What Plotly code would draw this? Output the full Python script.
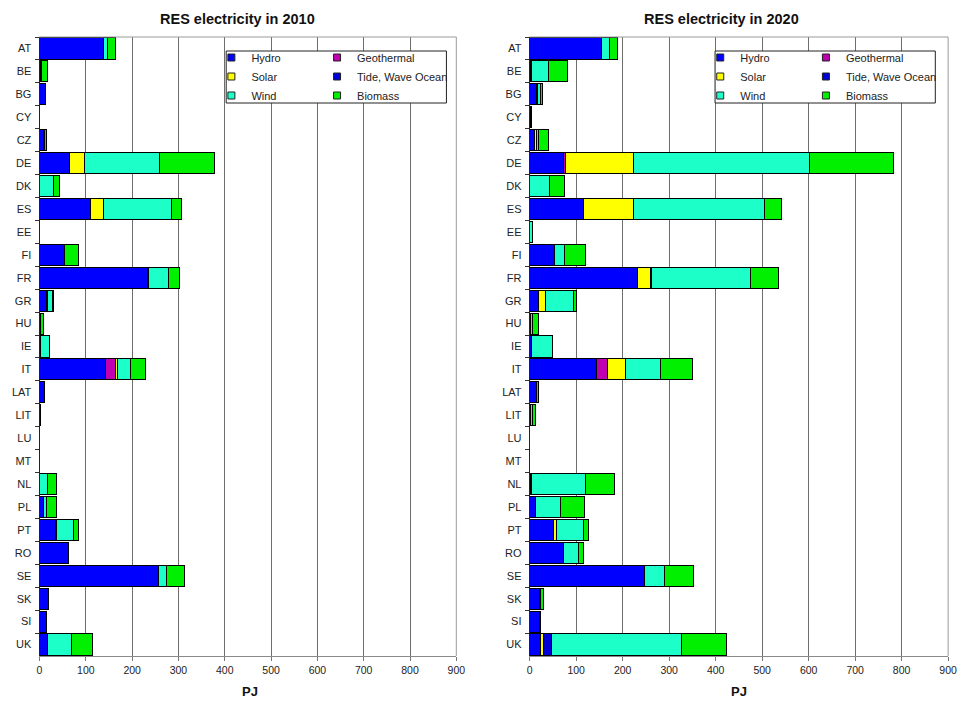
import plotly.graph_objects as go

# Member states, top to bottom
countries = ["AT", "BE", "BG", "CY", "CZ", "DE", "DK", "ES", "EE", "FI", "FR", "GR", "HU",
             "IE", "IT", "LAT", "LIT", "LU", "MT", "NL", "PL", "PT", "RO", "SE", "SK", "SI", "UK"]

sources = ["Hydro", "Geothermal", "Solar", "Tide, Wave Ocean", "Wind", "Biomass"]

# RES electricity 2010, PJ
hydro_2010 = [138, 1.2, 12, 0, 8.5, 65, 0.1, 111, 0, 53, 234, 16, 0.7,
              2.5, 143, 11, 0.5, 0, 0, 0.4, 8.5, 35.5, 62, 257, 19.5, 15, 18]
geo_2010 = [0, 0, 0, 0, 0, 0, 0, 0, 0, 0, 0, 0, 0,
            0, 20, 0, 0, 0, 0, 0, 0, 0, 0, 0, 0, 0, 0]
solar_2010 = [0.5, 0.2, 0, 0, 0.5, 33, 0, 28, 0, 0, 0.1, 0.5, 0,
              0, 6, 0, 0, 0, 0, 0.2, 0, 1, 0, 0, 0, 0, 0.2]
tide_2010 = [0, 0, 0, 0, 0, 0, 0, 0, 0, 0, 1.8, 0, 0,
             0, 0, 0, 0, 0, 0, 0, 0, 0, 0, 0, 0, 0, 0]
wind_2010 = [9, 3.5, 0.5, 0, 1, 161, 30, 147, 0, 0.5, 42.5, 12.5, 1.2,
             18, 28, 0.2, 0.5, 0, 0, 16, 7, 37, 0.3, 17, 0, 0, 51]
biomass_2010 = [17, 13, 0.5, 0, 5, 119, 14, 20, 0, 30, 23, 0.5, 7.5,
                0.5, 32, 0.3, 0.5, 0, 0, 21, 22, 10, 0.3, 38, 0.5, 0, 45]

# RES electricity 2020, PJ
hydro_2020 = [154, 1.5, 15, 0, 11, 73, 0.1, 115, 0.1, 53, 232.5, 20, 1,
              3, 143, 14, 1.5, 0, 0, 0.5, 13, 51.5, 73, 246.5, 21, 21, 23]
geo_2020 = [0, 0, 0, 0, 0, 4, 0, 0, 0, 0, 0, 0, 0,
            0, 24, 0, 0, 0, 0, 0, 0, 0, 0, 0, 0, 0, 0]
solar_2020 = [0.5, 2.5, 1.5, 1.3, 3, 147, 0.5, 108, 0, 0, 27.5, 13.5, 0,
              0, 40, 0, 0, 0, 0, 1.5, 0, 5.5, 0.5, 0.2, 1.5, 1, 6]
tide_2020 = [0, 0, 0, 0, 0, 0, 0, 0, 0, 0, 1.8, 0, 0,
             0, 0, 0, 0, 0, 0, 1.5, 0, 1.5, 0, 0, 0, 0, 17]
wind_2020 = [17, 37, 7, 1.8, 6, 377, 42, 282, 5.5, 21, 212.5, 60, 5,
             46, 74, 1.5, 5, 0, 0, 117, 54, 57, 31, 44, 0, 0.5, 281]
biomass_2020 = [18, 41, 4.5, 0.6, 21, 181, 33, 37, 1, 47, 60, 7, 13,
                0.5, 69, 3.5, 5.5, 0, 0, 62, 51, 12, 12, 61, 8, 1, 97]

colors = {
    "Hydro": "#0000FF",
    "Geothermal": "#C000B0",
    "Solar": "#FFFF00",
    "Tide, Wave Ocean": "#0000D8",
    "Wind": "#1CFFC8",
    "Biomass": "#00F000",
}

data_2010 = [hydro_2010, geo_2010, solar_2010, tide_2010, wind_2010, biomass_2010]
data_2020 = [hydro_2020, geo_2020, solar_2020, tide_2020, wind_2020, biomass_2020]

W, H = 968, 701
FONT = "Liberation Sans, Arial, sans-serif"


def px(xp):
    return xp / W


def py(yp):
    return 1 - yp / H


# legend column for each source (two columns per chart)
left_col = {"Hydro", "Solar", "Wind"}

fig = go.Figure()
for series, xa, ya, legs in [
    (data_2010, "x", "y", ("legend", "legend2")),
    (data_2020, "x2", "y2", ("legend3", "legend4")),
]:
    for name, vals in zip(sources, series):
        fig.add_trace(go.Bar(
            y=countries,
            x=[v if v else None for v in vals],
            name=name,
            orientation="h",
            xaxis=xa,
            yaxis=ya,
            marker=dict(color=colors[name], line=dict(color="#000000", width=1)),
            showlegend=False,
            hoverinfo="x+y+name",
        ))
    # small square legend keys, one per source
    for name in sources:
        fig.add_trace(go.Scatter(
            x=[None], y=[None], mode="markers", name=name, xaxis=xa, yaxis=ya,
            marker=dict(symbol="square", size=7, color=colors[name],
                        line=dict(color="#222222", width=1)),
            legend=legs[0] if name in left_col else legs[1],
            showlegend=True, hoverinfo="skip",
        ))

x_dom = [(37, 459), (533.3, 957)]
y_top, y_bot = 37, 656

axis_x = dict(
    range=[0, 900], dtick=100, tick0=0, showgrid=True, gridcolor="#6E6E6E", gridwidth=1,
    ticks="outside", ticklen=4, tickcolor="#777777", showline=True, linecolor="#8A8A8A",
    linewidth=1, zeroline=False, tickfont=dict(family=FONT, size=10.5, color="#222222"),
    fixedrange=True,
)
axis_y = dict(
    type="category", categoryorder="array", categoryarray=countries, autorange="reversed",
    ticks="outside", tickson="boundaries", ticklen=4, tickcolor="#333333",
    showline=True, linecolor="#222222", linewidth=1, showgrid=False, ticklabelstandoff=5,
    tickfont=dict(family=FONT, size=11, color="#222222"), fixedrange=True,
)

fig.update_layout(
    width=W, height=H,
    margin=dict(l=0, r=0, t=0, b=0),
    paper_bgcolor="white", plot_bgcolor="white",
    barmode="stack", bargap=0.08,
    font=dict(family=FONT, color="#222222"),
    xaxis=dict(axis_x, domain=[px(x_dom[0][0]), px(x_dom[0][1])], anchor="y"),
    yaxis=dict(axis_y, domain=[py(y_bot), py(y_top)], anchor="x"),
    xaxis2=dict(axis_x, domain=[px(x_dom[1][0]), px(x_dom[1][1])], anchor="y2"),
    yaxis2=dict(axis_y, domain=[py(y_bot), py(y_top)], anchor="x2"),
)

# legends: two vertical columns per chart inside a framed box
leg_common = dict(
    orientation="v", yanchor="top", xanchor="left", bgcolor="rgba(0,0,0,0)",
    borderwidth=0, font=dict(family=FONT, size=11, color="#222222"),
    tracegroupgap=0, traceorder="normal", itemsizing="trace",
)
fig.update_layout(
    legend=dict(leg_common, x=px(211), y=py(43)),
    legend2=dict(leg_common, x=px(318), y=py(43)),
    legend3=dict(leg_common, x=px(706), y=py(43)),
    legend4=dict(leg_common, x=px(813), y=py(43)),
)

shapes = []
for (x0, x1), (lx0, lx1) in zip(x_dom, [(226, 449), (721, 944)]):
    # top and right frame of plot area
    shapes.append(dict(type="line", xref="paper", yref="paper", x0=px(x0), x1=px(x1),
                       y0=py(y_top), y1=py(y_top), line=dict(color="#9A9A9A", width=1)))
    shapes.append(dict(type="line", xref="paper", yref="paper", x0=px(x1), x1=px(x1),
                       y0=py(y_top), y1=py(y_bot), line=dict(color="#9A9A9A", width=1)))
    # legend box
    shapes.append(dict(type="rect", xref="paper", yref="paper", x0=px(lx0), x1=px(lx1),
                       y0=py(103), y1=py(51), fillcolor="white",
                       line=dict(color="#222222", width=1), layer="above"))
fig.update_layout(shapes=shapes)

titles = [("RES electricity in 2010", 237), ("RES electricity in 2020", 728)]
annotations = []
for text, cx in titles:
    annotations.append(dict(text=f"<b>{text}</b>", x=px(cx), y=py(19), xref="paper", yref="paper",
                            showarrow=False, xanchor="center", yanchor="middle",
                            font=dict(family=FONT, size=14.5, color="#111111")))
for cx in (250, 745):
    annotations.append(dict(text="<b>PJ</b>", x=px(cx), y=py(691), xref="paper", yref="paper",
                            showarrow=False, xanchor="center", yanchor="middle",
                            font=dict(family=FONT, size=13, color="#111111")))
fig.update_layout(annotations=annotations)

fig.write_html("out.html")
